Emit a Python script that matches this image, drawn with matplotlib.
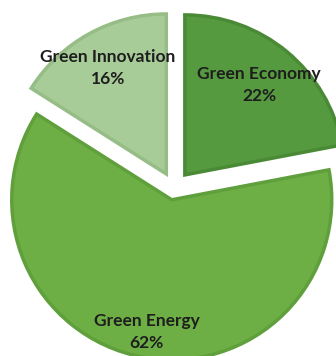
import numpy as np
import matplotlib.pyplot as plt

# slice data (clockwise from 12 o'clock)
labels = ["Green Economy", "Green Energy", "Green Innovation"]
shares = [22, 62, 16]
colors = ["#559a3f", "#6daf45", "#a8cc98"]
edges = ["#4a8a36", "#5f9f3c", "#96bd86"]
explode = [17, 12, 16]  # in data units (pixels)
label_dist = [0.73, 0.84, 0.755]

fig = plt.figure(figsize=(3.36, 3.56), dpi=100)
ax = fig.add_axes([0, 0, 1, 1])

R = 160
wedges, texts = ax.pie(shares, labels=[f"{n}\n{v}%" for n, v in zip(labels, shares)],
                       colors=colors, explode=explode, startangle=90,
                       counterclock=False, radius=R, center=(174, 168),
                       frame=True,
                       wedgeprops=dict(linewidth=2.5))
ax.set_xlim(0, 336)
ax.set_ylim(0, 356)
ax.set_aspect("equal")
ax.axis("off")

for w, t, ec, d in zip(wedges, texts, edges, label_dist):
    w.set_edgecolor(ec)
    mid = np.deg2rad((w.theta1 + w.theta2) / 2)
    cx, cy = w.center
    t.set_position((cx + d * R * np.cos(mid), cy + d * R * np.sin(mid)))
    t.set_ha("center")
    t.set_va("center")
    t.set_fontsize(12.5)
    t.set_fontweight("bold")
    t.set_family("Lato")
    t.set_color("#1e1e1e")
    t.set_linespacing(1.45)

fig.savefig("out.png", dpi=100)
